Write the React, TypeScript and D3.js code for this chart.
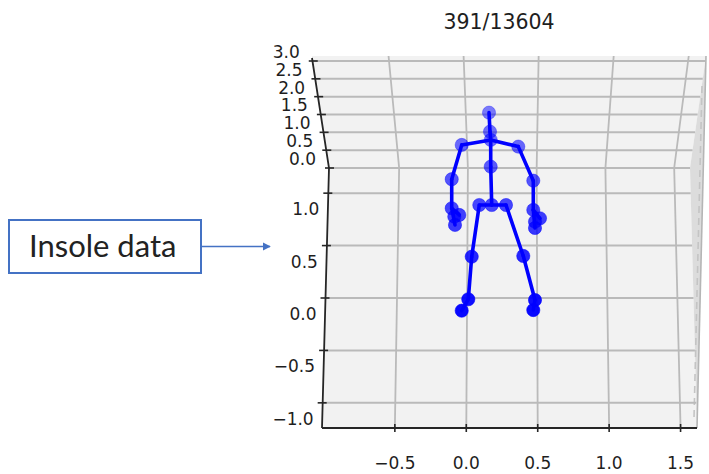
import React from 'react';
import * as d3 from 'd3';

// frame counter shown as title
const title = '391/13604';

// axis ticks
const xTicks = [-0.5, 0.0, 0.5, 1.0, 1.5];
const yTicks = [1.0, 0.5, 0.0, -0.5, -1.0];
const zTicks = [0.0, 0.5, 1.0, 1.5, 2.0, 2.5, 3.0];

// skeleton joints (x, y on the floor plane)
const jointNames = [
  'headTop', 'neck', 'thorax', 'lShoulder', 'rShoulder', 'spine',
  'lElbow', 'rElbow', 'lWrist', 'lHand1', 'lHand2', 'lHand3',
  'rWrist', 'rHand1', 'rHand2', 'rHand3', 'pelvis', 'lHip', 'rHip',
  'lKnee', 'rKnee', 'lAnkle', 'lFoot', 'rAnkle', 'rFoot',
];
const jointX = [
  0.159, 0.166, 0.171, -0.032, 0.364, 0.171,
  -0.102, 0.469, -0.102, -0.049, -0.084, -0.079,
  0.469, 0.516, 0.481, 0.481, 0.178, 0.091, 0.278,
  0.038, 0.399, 0.014, -0.032, 0.481, 0.469,
];
const jointY = [
  1.768, 1.587, 1.508, 1.460, 1.444, 1.253,
  1.133, 1.119, 0.856, 0.792, 0.776, 0.697,
  0.840, 0.760, 0.728, 0.668, 0.887, 0.887, 0.887,
  0.394, 0.401, -0.012, -0.121, -0.019, -0.115,
];
const bones: [string, string][] = [
  ['headTop', 'neck'], ['neck', 'thorax'], ['thorax', 'spine'], ['spine', 'pelvis'],
  ['thorax', 'lShoulder'], ['lShoulder', 'lElbow'], ['lElbow', 'lWrist'], ['lWrist', 'lHand1'], ['lWrist', 'lHand3'],
  ['thorax', 'rShoulder'], ['rShoulder', 'rElbow'], ['rElbow', 'rWrist'], ['rWrist', 'rHand1'], ['rWrist', 'rHand3'],
  ['pelvis', 'lHip'], ['lHip', 'lKnee'], ['lKnee', 'lAnkle'], ['lAnkle', 'lFoot'],
  ['pelvis', 'rHip'], ['rHip', 'rKnee'], ['rKnee', 'rAnkle'], ['rAnkle', 'rFoot'],
];

const W = 709;
const H = 474;

// pane geometry (screen rows of the front edge, floor/wall seam and top)
const frontY = 428;
const backY = 168;
const topY = 56;
const xDomain: [number, number] = [-1.01, 1.615];

const xFront = d3.scaleLinear().domain(xDomain).range([322, 697]);
const xBack = d3.scaleLinear().domain(xDomain).range([329, 690]);
const xTop = d3.scaleLinear().domain(xDomain).range([312, 706]);
const yFloor = d3.scaleLinear().domain([-1.24, 1.24]).range([frontY, backY]);
const zWall = d3.scaleLinear().domain([0, 3]).range([backY, 61]);

// x position of a data x value at a screen row
function xAt(v: number, py: number) {
  if (py >= backY) {
    const t = (py - backY) / (frontY - backY);
    return xBack(v) + (xFront(v) - xBack(v)) * t;
  }
  const t = (backY - py) / (backY - topY);
  return xBack(v) + (xTop(v) - xBack(v)) * t;
}

const fmt = (v: number) => d3.format('.1f')(v).replace('-', '\u2212');

export default function App() {
  const grid = '#bababa';
  const axisColor = '#262626';
  const labelColor = '#1e1e1e';
  const tickFont = 'DejaVu Sans, sans-serif';
  const lo = xDomain[0];
  const hi = xDomain[1];

  const joints = new Map(jointNames.map((n, i) => [n, [jointX[i], jointY[i]]]));
  const alpha = d3.scaleLinear().domain([d3.max(jointY)!, d3.min(jointY)!]).range([0.5, 0.97]);
  const px = (v: number) => xFront(v);
  const py = (v: number) => yFloor(v);

  const wallPane = [[xTop(lo), topY], [xTop(hi), topY], [xBack(hi), backY], [xBack(lo), backY]];
  const floorPane = [[xBack(lo), backY], [xBack(hi), backY], [xFront(hi), frontY], [xFront(lo), frontY]];
  const sidePane = [[xTop(hi), topY], [xFront(hi), frontY], [xBack(hi), backY]];
  const poly = (pts: number[][]) => pts.map(p => p.join(',')).join(' ');
  const line = d3.line();

  const rows = [
    ...zTicks.map(z => zWall(z)),
    ...yTicks.map(y => yFloor(y)),
  ];

  return (
    <svg width={W} height={H} style={{ position: 'absolute', left: 0, top: 0, background: '#fff' }}>
      <text x={499} y={29} textAnchor="middle" fontFamily={tickFont} fontSize={20.5} fill={labelColor}>{title}</text>

      <polygon points={poly(wallPane)} fill="#f2f2f2" />
      <polygon points={poly(floorPane)} fill="#f2f2f2" />
      <polygon points={poly(sidePane)} fill="#dcdcdc" />
      <path d={line([[xTop(hi), topY], [xFront(hi), frontY]])!} stroke="#b5b5b5" strokeWidth={1.6} fill="none" />
      <path d={line([[xTop(hi) - 4, topY + 30], [xFront(hi) - 3, frontY - 10]])!} stroke="#c4c4c4" strokeWidth={1.6} strokeDasharray="7,5" fill="none" />

      {/* horizontal grid rows */}
      {rows.map((r, i) => (
        <line key={'r' + i} x1={xAt(lo, r)} x2={xAt(hi, r)} y1={r} y2={r} stroke={grid} strokeWidth={2} />
      ))}

      {/* vertical grid columns */}
      {xTicks.map(v => (
        <path key={'c' + v} d={line([[xFront(v), frontY], [xBack(v), backY], [xTop(v), topY]])!} stroke={grid} strokeWidth={1.8} fill="none" />
      ))}

      {/* axes */}
      <path d={line([[xTop(lo), topY + 2], [xBack(lo), backY], [xFront(lo), frontY]])!} stroke={axisColor} strokeWidth={1.8} fill="none" />
      <line x1={xFront(lo)} x2={xFront(hi)} y1={frontY} y2={frontY} stroke={axisColor} strokeWidth={1.8} />

      {zTicks.map(z => {
        const y = zWall(z);
        const x = xAt(lo, y);
        return (
          <g key={'z' + z}>
            <line x1={x - 4} x2={x + 5} y1={y} y2={y} stroke={axisColor} strokeWidth={1.6} />
            <text x={x - 13} y={y - 9} dy="0.35em" textAnchor="end" fontFamily={tickFont} fontSize={17} fill={labelColor}>{fmt(z)}</text>
          </g>
        );
      })}

      {yTicks.map(v => {
        const y = yFloor(v);
        const x = xAt(lo, y);
        return (
          <g key={'y' + v}>
            <line x1={x - 5} x2={x + 4} y1={y} y2={y} stroke={axisColor} strokeWidth={1.6} />
            <text x={x - 9} y={y + 16} dy="0.35em" textAnchor="end" fontFamily={tickFont} fontSize={17} fill={labelColor}>{fmt(v)}</text>
          </g>
        );
      })}

      {xTicks.map(v => (
        <g key={'x' + v}>
          <line x1={xFront(v)} x2={xFront(v)} y1={frontY - 4} y2={frontY + 4} stroke={axisColor} strokeWidth={1.6} />
          <text x={xFront(v)} y={463} dy="0.35em" textAnchor="middle" fontFamily={tickFont} fontSize={17} fill={labelColor}>{fmt(v)}</text>
        </g>
      ))}

      {/* skeleton */}
      {bones.map(([a, b], i) => {
        const p = joints.get(a)!;
        const q = joints.get(b)!;
        return <line key={'b' + i} x1={px(p[0])} y1={py(p[1])} x2={px(q[0])} y2={py(q[1])} stroke="#0000ff" strokeWidth={3.6} strokeLinecap="round" />;
      })}
      {jointNames.map((n, i) => (
        <circle key={n} cx={px(jointX[i])} cy={py(jointY[i])} r={6.6} fill="#0000ff" fillOpacity={alpha(jointY[i])} stroke="#0000ff" strokeOpacity={alpha(jointY[i]) * 0.6} strokeWidth={1} />
      ))}

      {/* annotation */}
      <defs>
        <marker id="arr" viewBox="0 0 10 10" refX={9} refY={5} markerWidth={5.5} markerHeight={5.5} orient="auto">
          <path d="M0,0 L10,5 L0,10 z" fill="#4472c4" />
        </marker>
      </defs>
      <rect x={9} y={220} width={192} height={53} fill="#fff" stroke="#4472c4" strokeWidth={2} />
      <text x={29} y={246.5} dy="0.35em" fontFamily="Lato, Carlito, sans-serif" fontSize={31} fill="#222">Insole data</text>
      <line x1={201} x2={270} y1={246.5} y2={246.5} stroke="#4472c4" strokeWidth={1.5} markerEnd="url(#arr)" />
    </svg>
  );
}
